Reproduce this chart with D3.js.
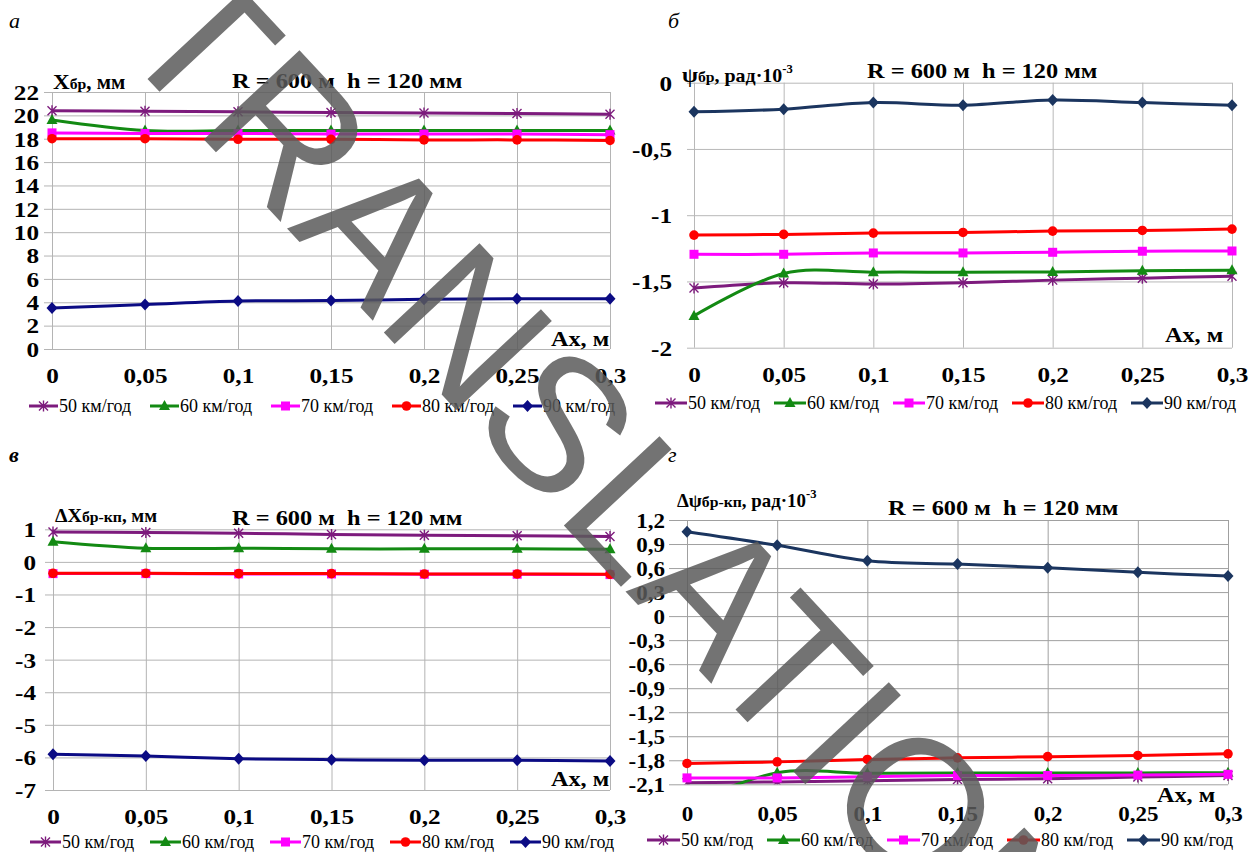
<!DOCTYPE html>
<html><head><meta charset="utf-8">
<script src="https://cdn.jsdelivr.net/npm/d3@7"></script>
<style>
body{margin:0;background:#fff}
svg{display:block}
svg text{font-family:"Liberation Serif","Times New Roman","DejaVu Serif",serif;white-space:pre}
svg text.stamp{font-family:"Liberation Sans",Arial,sans-serif}
</style>
</head><body>
<svg id="chart" width="1254" height="852"></svg>
<script>
// Shared categories and labels
const axValues = [0, 0.05, 0.1, 0.15, 0.2, 0.25, 0.3];
const axLabels = ["0", "0,05", "0,1", "0,15", "0,2", "0,25", "0,3"];
const speedNames = ["50 км/год", "60 км/год", "70 км/год", "80 км/год", "90 км/год"];
const panelLetters = ["а", "б", "в", "г"];
const conditions = "R = 600 м  h = 120 мм";
const xName = "Ax, м";
const stamp = "TRANSLATION";

// а: Xбр, мм
const aTicks = [0, 2, 4, 6, 8, 10, 12, 14, 16, 18, 20, 22];
const a50 = [20.4, 20.35, 20.3, 20.25, 20.2, 20.15, 20.1];
const a60 = [19.6, 18.7, 18.7, 18.7, 18.7, 18.7, 18.7];
const a70 = [18.5, 18.45, 18.45, 18.4, 18.4, 18.4, 18.35];
const a80 = [18.0, 18.0, 17.95, 17.95, 17.9, 17.9, 17.85];
const a90 = [3.5, 3.8, 4.1, 4.15, 4.25, 4.3, 4.3];

// б: ψбр, рад·10^-3
const bTicks = [-2, -1.5, -1, -0.5, 0];
const b50 = [-1.55, -1.51, -1.52, -1.51, -1.49, -1.475, -1.46];
const b60 = [-1.76, -1.44, -1.43, -1.43, -1.428, -1.42, -1.415];
const b70 = [-1.295, -1.295, -1.285, -1.285, -1.28, -1.272, -1.27];
const b80 = [-1.15, -1.145, -1.135, -1.13, -1.12, -1.115, -1.105];
const b90 = [-0.22, -0.2, -0.15, -0.17, -0.13, -0.15, -0.17];

// в: ΔXбр-кп, мм
const cTicks = [-7, -6, -5, -4, -3, -2, -1, 0, 1];
const c50 = [0.92, 0.9, 0.88, 0.84, 0.82, 0.8, 0.78];
const c60 = [0.62, 0.42, 0.42, 0.4, 0.4, 0.4, 0.39];
const c70 = [-0.36, -0.36, -0.37, -0.37, -0.38, -0.38, -0.39];
const c80 = [-0.35, -0.35, -0.36, -0.36, -0.37, -0.37, -0.38];
const c90 = [-5.9, -5.96, -6.04, -6.07, -6.09, -6.09, -6.11];

// г: Δψбр-кп, рад·10^-3
const dTicks = [-2.1, -1.8, -1.5, -1.2, -0.9, -0.6, -0.3, 0, 0.3, 0.6, 0.9, 1.2];
const d50 = [-2.08, -2.07, -2.055, -2.04, -2.03, -2.01, -1.99];
const d60 = [-2.35, -1.955, -1.963, -1.96, -1.96, -1.958, -1.955];
const d70 = [-2.02, -2.02, -2.005, -1.99, -1.99, -1.985, -1.975];
const d80 = [-1.84, -1.82, -1.79, -1.77, -1.755, -1.74, -1.72];
const d90 = [1.054, 0.884, 0.69, 0.65, 0.604, 0.547, 0.5];

const svg = d3.select("#chart");

// text placed at (x,y) and widened horizontally by sx
function stretchedText(parent, x, y, sx, opts) {
  const g = parent.append("g").attr("transform", `translate(${x},${y}) scale(${sx},1)`);
  return g.append("text")
    .style("font-size", opts.size + "px")
    .style("font-weight", opts.weight || "normal")
    .style("font-style", opts.italic ? "italic" : "normal")
    .attr("text-anchor", opts.anchor || "start")
    .attr("fill", opts.fill || "#000");
}

const markerShapes = ["star", "triangle", "square", "circle", "diamond"];
function drawMarker(g, shape, x, y, color) {
  if (shape === "star") {
    g.append("path").attr("d", "M-4.5,-4.5L4.5,4.5M-4.5,4.5L4.5,-4.5M0,-5.5L0,5.5")
      .attr("transform", `translate(${x},${y})`).attr("stroke", color).attr("stroke-width", 1.4).attr("fill", "none");
  } else if (shape === "triangle") {
    g.append("path").attr("d", "M0,-6L5.5,4L-5.5,4Z").attr("transform", `translate(${x},${y})`).attr("fill", color);
  } else if (shape === "square") {
    g.append("rect").attr("x", x - 4.5).attr("y", y - 4.5).attr("width", 9).attr("height", 9).attr("fill", color);
  } else if (shape === "circle") {
    g.append("circle").attr("cx", x).attr("cy", y).attr("r", 4.8).attr("fill", color);
  } else {
    g.append("path").attr("d", "M0,-6L5.5,0L0,6L-5.5,0Z").attr("transform", `translate(${x},${y})`).attr("fill", color);
  }
}

const fmt = d => String(+d.toFixed(2)).replace(".", ",");

function drawPanel(cfg, idx) {
  const x = d3.scaleLinear().domain([0, 0.3]).range([cfg.left, cfg.right]);
  const y = d3.scaleLinear().domain([cfg.ticks[0], cfg.ticks[cfg.ticks.length - 1]]).range([cfg.bottom, cfg.top]);
  const W = cfg.right - cfg.left, H = cfg.bottom - cfg.top;
  const g = svg.append("g");

  // horizontal grid + y labels
  const ya = g.append("g").attr("transform", `translate(${cfg.left},0)`)
    .call(d3.axisLeft(y).tickValues(cfg.ticks).tickFormat(fmt).tickSize(-W).tickPadding(0));
  ya.select(".domain").remove();
  ya.selectAll(".tick line").attr("x1", -cfg.tickExt).attr("x2", W).attr("stroke", cfg.grid).attr("stroke-width", 1);
  ya.selectAll(".tick text").attr("x", null).attr("dy", "0.35em")
    .attr("transform", `translate(${-cfg.labPad},0) scale(${cfg.tsx},1)`)
    .style("font-size", cfg.tfs + "px").style("font-weight", "bold").attr("fill", "#000");

  // vertical grid + x labels
  const xa = g.append("g").attr("transform", `translate(0,${cfg.bottom})`)
    .call(d3.axisBottom(x).tickValues(axValues).tickFormat((d, i) => axLabels[i]).tickSize(-H).tickPadding(0));
  xa.select(".domain").remove();
  xa.selectAll(".tick line").attr("stroke", cfg.grid).attr("stroke-width", 1);
  xa.selectAll(".tick text").attr("y", null).attr("dy", null)
    .attr("transform", `translate(0,${cfg.xLabOff}) scale(${cfg.tsx},1)`)
    .style("font-size", cfg.tfs + "px").style("font-weight", "bold").attr("fill", "#000");

  // series
  const clipId = "clip" + idx;
  g.append("clipPath").attr("id", clipId).append("rect")
    .attr("x", cfg.left - 8).attr("y", cfg.top - 8).attr("width", W + 16).attr("height", H + 8);
  const plot = g.append("g").attr("clip-path", `url(#${clipId})`);
  const line = d3.line().x((d, i) => x(axValues[i])).y(d => y(d)).curve(d3.curveCardinal.tension(0));
  cfg.series.forEach((vals, s) => {
    const col = cfg.colors[s];
    plot.append("path").attr("d", line(vals)).attr("fill", "none").attr("stroke", col).attr("stroke-width", 3);
    vals.forEach((v, i) => drawMarker(plot, markerShapes[s], x(axValues[i]), y(v), col));
  });

  // legend
  const lg = g.append("g");
  speedNames.forEach((name, s) => {
    const lx = cfg.legX + s * cfg.legStep;
    const col = cfg.colors[s];
    lg.append("line").attr("x1", lx).attr("x2", lx + cfg.legLen).attr("y1", cfg.legY).attr("y2", cfg.legY)
      .attr("stroke", col).attr("stroke-width", 3);
    drawMarker(lg, markerShapes[s], lx + cfg.legLen / 2, cfg.legY, col);
    stretchedText(lg, lx + cfg.legLen + 1, cfg.legY + 6, 1.0, { size: 18 }).text(name);
  });

  // subtitle, axis name, units
  stretchedText(g, cfg.titleX, cfg.titleY, cfg.titleSx, { size: 21, weight: "bold" }).text(conditions);
  stretchedText(g, cfg.axX, cfg.axY, 1.1, { size: 22, weight: "bold" }).text(xName);
  const yl = stretchedText(g, cfg.ylX, cfg.ylY, 1.05, { size: 22, weight: "bold" });
  cfg.yName(yl);

  // panel letter
  stretchedText(svg, cfg.letterX, cfg.letterY, 1.0, { size: 22, italic: true, weight: cfg.letterBold ? "bold" : "normal" })
    .text(panelLetters[idx]);
}

const pal = ["#7d1b7d", "#138a13", "#ff00ff", "#ff0000"];
const panels = [
  { left: 52, right: 610, top: 92, bottom: 349, ticks: aTicks, series: [a50, a60, a70, a80, a90],
    colors: [...pal, "#0b0b84"], grid: "#b4b4b4", tickExt: 8, labPad: 13, tsx: 1.2, tfs: 21, xLabOff: 34,
    legX: 29, legStep: 121, legLen: 29, legY: 406,
    titleX: 232, titleY: 88, titleSx: 1.16, axX: 551, axY: 346, ylX: 53, ylY: 89,
    yName: t => { t.append("tspan").text("X"); t.append("tspan").style("font-size", "15px").text("бр"); t.append("tspan").style("font-size", "20px").text(", мм"); },
    letterX: 9, letterY: 28 },
  { left: 694, right: 1232, top: 82.7, bottom: 347.7, ticks: bTicks, series: [b50, b60, b70, b80, b90],
    colors: [...pal, "#1b355f"], grid: "#b8b8b8", tickExt: 7, labPad: 22, tsx: 1.2, tfs: 21, xLabOff: 34,
    legX: 655, legStep: 119, legLen: 32, legY: 403,
    titleX: 867, titleY: 78, titleSx: 1.16, axX: 1165, axY: 342, ylX: 682, ylY: 82,
    yName: t => { t.append("tspan").text("ψ"); t.append("tspan").style("font-size", "15px").text("бр"); t.append("tspan").style("font-size", "19px").text(", рад·10"); t.append("tspan").style("font-size", "12px").attr("dy", -9).text("-3"); },
    letterX: 668, letterY: 28 },
  { left: 53, right: 610, top: 529.3, bottom: 790, ticks: cTicks, series: [c50, c60, c70, c80, c90],
    colors: [...pal, "#0b0b84"], grid: "#b4b4b4", tickExt: 8, labPad: 17, tsx: 1.2, tfs: 21, xLabOff: 34,
    legX: 30, legStep: 120, legLen: 31, legY: 842,
    titleX: 232, titleY: 525, titleSx: 1.16, axX: 551, axY: 786, ylX: 55, ylY: 522,
    yName: t => { t.append("tspan").style("font-size", "19px").text("ΔX"); t.append("tspan").style("font-size", "15px").text("бр-кп"); t.append("tspan").style("font-size", "18px").text(", мм"); },
    letterX: 9, letterY: 462, letterBold: true },
  { left: 687, right: 1228, top: 520, bottom: 784.3, ticks: dTicks, series: [d50, d60, d70, d80, d90],
    colors: [...pal, "#1b355f"], grid: "#a0a0a0", tickExt: 18, labPad: 22, tsx: 1.15, tfs: 20, xLabOff: 37,
    legX: 647, legStep: 120, legLen: 33, legY: 840,
    titleX: 888, titleY: 515, titleSx: 1.16, axX: 1157, axY: 802, ylX: 677, ylY: 507,
    yName: t => { t.append("tspan").style("font-size", "18px").text("Δψ"); t.append("tspan").style("font-size", "15px").text("бр-кп"); t.append("tspan").style("font-size", "18px").text(", рад·10"); t.append("tspan").style("font-size", "12px").attr("dy", -9).text("-3"); },
    letterX: 668, letterY: 462 }
];
panels.forEach(drawPanel);

// diagonal stamp across the sheet
svg.append("text").attr("class", "stamp")
  .attr("transform", "translate(114,43) rotate(47)")
  .style("font-size", "190px")
  .attr("fill", "#5a5a5a").attr("fill-opacity", 0.85)
  .text(stamp);
</script>
</body></html>
